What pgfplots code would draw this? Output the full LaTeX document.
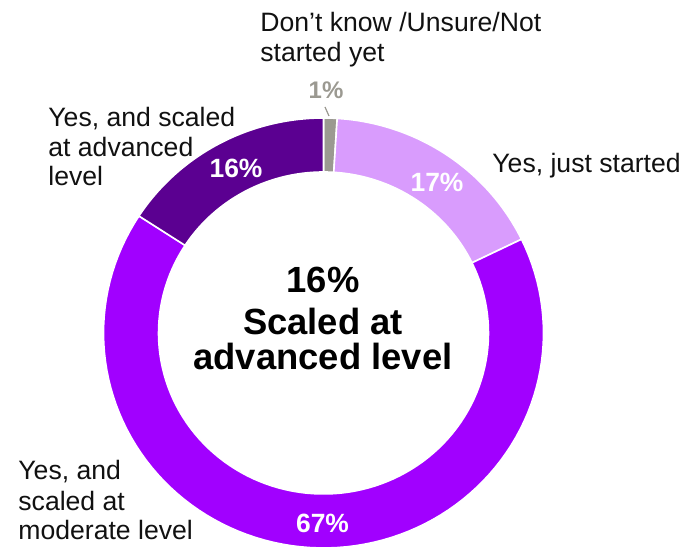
\documentclass[border=0pt]{standalone}
\usepackage{fontspec}
\setmainfont{Liberation Sans}
\usepackage{pgfplots}
\pgfplotsset{compat=1.18}
\definecolor{cgray}{HTML}{9B9991}
\definecolor{clight}{HTML}{D99CFD}
\definecolor{cbright}{HTML}{A100FF}
\definecolor{cdark}{HTML}{5B0091}
\definecolor{ctext}{HTML}{111111}
% donut segment: #1 cumulative start, #2 cumulative end (of total 101), #3 colour
\newcommand{\seg}[3]{%
\addplot[fill=#3, draw=white, line width=0.8pt, domain=0:201, samples=202, variable=\t]
({323.5 + (\t<100.5 ? 220 : 165)*sin(360/101*(\t<100.5 ? #1+(#2-#1)*\t/100 : #2-(#2-#1)*(\t-101)/100))},
 {216 + (\t<100.5 ? 215 : 161)*cos(360/101*(\t<100.5 ? #1+(#2-#1)*\t/100 : #2-(#2-#1)*(\t-101)/100))}) -- cycle;
}
\newcommand{\lab}{\fontsize{13.3}{15}\selectfont}
\newcommand{\pct}{\fontsize{13.2}{15}\selectfont\bfseries}
\begin{document}
\begin{tikzpicture}
\begin{axis}[
  scale only axis, width=343pt, height=274.5pt,
  xmin=0, xmax=686, ymin=0, ymax=549,
  axis lines=none, clip=false,
]
\path (axis cs:0,0) rectangle (axis cs:686,549);
% values: 1, 17, 67, 16 (cumulative 0,1,18,85,101)
\seg{0}{1}{cgray}
\seg{1}{18}{clight}
\seg{18}{85}{cbright}
\seg{85}{101}{cdark}

% percentage labels
\node[anchor=base, inner sep=0, text=white, font=\pct] at (axis cs:437,357) {17\%};
\node[anchor=base, inner sep=0, text=white, font=\pct] at (axis cs:236,371) {16\%};
\node[anchor=base, inner sep=0, text=white, font=\pct] at (axis cs:322.5,16) {67\%};
\node[anchor=base, inner sep=0, text=cgray, font=\fontsize{12}{14}\selectfont\bfseries] at (axis cs:326,450) {1\%};
\draw[cgray, line width=0.6pt] (axis cs:325,442) -- (axis cs:329,433);

% category labels
\node[anchor=base west, inner sep=0, text=ctext, font=\lab] at (axis cs:260,517) {Don’t know /Unsure/Not};
\node[anchor=base west, inner sep=0, text=ctext, font=\lab] at (axis cs:260,487) {started yet};
\node[anchor=base west, inner sep=0, text=ctext, font=\lab] at (axis cs:492,376) {Yes, just started};
\node[anchor=base west, inner sep=0, text=ctext, font=\lab] at (axis cs:48,422) {Yes, and scaled};
\node[anchor=base west, inner sep=0, text=ctext, font=\lab] at (axis cs:48,392) {at advanced};
\node[anchor=base west, inner sep=0, text=ctext, font=\lab] at (axis cs:48,363) {level};
\node[anchor=base west, inner sep=0, text=ctext, font=\lab] at (axis cs:18,69) {Yes, and};
\node[anchor=base west, inner sep=0, text=ctext, font=\lab] at (axis cs:18,38) {scaled at};
\node[anchor=base west, inner sep=0, text=ctext, font=\lab] at (axis cs:18,9) {moderate level};

% centre text
\node[anchor=base, inner sep=0, font=\fontsize{18.2}{20}\selectfont\bfseries] at (axis cs:323,256) {16\%};
\node[anchor=base, inner sep=0, font=\fontsize{18.2}{20}\selectfont\bfseries] at (axis cs:323,214) {Scaled at};
\node[anchor=base, inner sep=0, font=\fontsize{18.2}{20}\selectfont\bfseries] at (axis cs:323,179) {advanced level};
\end{axis}
\end{tikzpicture}
\end{document}
